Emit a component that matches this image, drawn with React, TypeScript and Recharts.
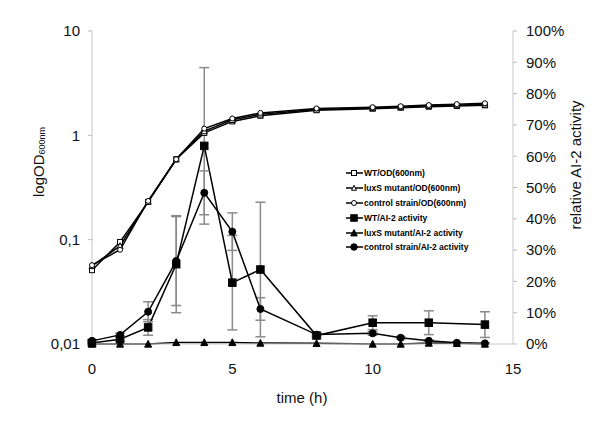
import React from 'react';
import { ComposedChart, Line, XAxis, YAxis, ErrorBar } from 'recharts';

// time points (h)
const timesOD = [0, 1, 2, 3, 4, 5, 6, 8, 10, 11, 12, 13, 14];
const wtOD = [0.051, 0.095, 0.23, 0.59, 1.055, 1.36, 1.54, 1.74, 1.8, 1.84, 1.88, 1.91, 1.94];
const luxsOD = [0.056, 0.087, 0.232, 0.59, 1.1, 1.41, 1.59, 1.77, 1.83, 1.87, 1.92, 1.95, 1.98];
const ctrlOD = [0.057, 0.08, 0.235, 0.59, 1.16, 1.45, 1.64, 1.81, 1.86, 1.9, 1.95, 1.99, 2.03];

const timesWT = [0, 1, 2, 3, 4, 5, 6, 8, 10, 12, 14];
const wtAI = [0.3, 1.5, 5.3, 25.5, 63.3, 19.6, 23.8, 2.7, 6.8, 6.8, 6.2];
const wtAIErr = [0.3, 0.6, 2.5, 15.5, 25, 15.1, 21.5, 0.8, 2.2, 3.8, 4.1];

const timesAI = [0, 1, 2, 3, 4, 5, 6, 8, 10, 11, 12, 13, 14];
const luxsAI = [0, 0, 0, 0.5, 0.5, 0.5, 0.3, 0.2, 0, 0, 0.3, 0.2, 0];
const ctrlAI = [1.0, 2.9, 10.3, 26.5, 48.3, 35.9, 11.2, 3.0, 3.4, 2.0, 1.0, 0.4, 0.2];
const ctrlAIErr = [0.3, 0.5, 3.2, 14.2, 7, 6, 3.6, 0.5, 0.6, 0.4, 0.3, 0.2, 0.1];

const xTicks = [0, 5, 10, 15];
const odTicks = [0.01, 0.1, 1, 10];
const aiTicks = [0, 10, 20, 30, 40, 50, 60, 70, 80, 90, 100];

const legendLabels = [
  'WT/OD(600nm)',
  'luxS mutant/OD(600nm)',
  'control strain/OD(600nm)',
  'WT/AI-2 activity',
  'luxS mutant/AI-2 activity',
  'control strain/AI-2 activity',
];

const build = (t: number[], v: number[], e?: number[]) =>
  t.map((x, i) => ({ t: x, v: v[i], e: e ? e[i] : 0 }));

type Shape = 'square' | 'triangle' | 'circle';

const Mark = ({ cx, cy, shape, filled, size }: { cx: number; cy: number; shape: Shape; filled: boolean; size: number }) => {
  const fill = filled ? '#000' : '#fff';
  const sw = 1;
  if (shape === 'square') {
    return <rect x={cx - size / 2} y={cy - size / 2} width={size} height={size} fill={fill} stroke="#000" strokeWidth={sw} />;
  }
  if (shape === 'triangle') {
    const h = size * 0.9;
    const pts = `${cx},${cy - h / 2 - 0.5} ${cx - size / 2},${cy + h / 2} ${cx + size / 2},${cy + h / 2}`;
    return <polygon points={pts} fill={fill} stroke="#000" strokeWidth={sw} />;
  }
  return <circle cx={cx} cy={cy} r={size / 2} fill={fill} stroke="#000" strokeWidth={sw} />;
};

const dotFn = (shape: Shape, filled: boolean, size: number) => (p: any) => {
  if (p.cx == null || p.cy == null) return <g key={`d${p.index}`} />;
  return <Mark key={`d${p.index}`} cx={p.cx} cy={p.cy} shape={shape} filled={filled} size={size} />;
};

const series: { shape: Shape; filled: boolean; size: number }[] = [
  { shape: 'square', filled: false, size: 5 },
  { shape: 'triangle', filled: false, size: 6 },
  { shape: 'circle', filled: false, size: 5 },
  { shape: 'square', filled: true, size: 7.5 },
  { shape: 'triangle', filled: true, size: 7 },
  { shape: 'circle', filled: true, size: 7 },
];

const font = '"Liberation Sans", Arial, Helvetica, sans-serif';

const LeftLabel = () => (
  <text x={38} y={162} transform="rotate(-90, 38, 162)" textAnchor="middle" dominantBaseline="central" fontSize={15} fill="#111" fontFamily={font}>
    logOD<tspan fontSize={9} dy={4}>600nm</tspan>
  </text>
);

const RightLabel = () => (
  <text x={575} y={165} transform="rotate(-90, 575, 165)" textAnchor="middle" dominantBaseline="central" fontSize={15} fill="#111" fontFamily={font}>
    relative AI-2 activity
  </text>
);

const BottomLabel = () => (
  <text x={302} y={397} textAnchor="middle" dominantBaseline="central" fontSize={15} fill="#111" fontFamily={font}>
    time (h)
  </text>
);

export default function App() {
  const odData = [build(timesOD, wtOD), build(timesOD, luxsOD), build(timesOD, ctrlOD)];
  const wtData = build(timesWT, wtAI, wtAIErr);
  const luxData = build(timesAI, luxsAI);
  const ctrlData = build(timesAI, ctrlAI, ctrlAIErr);
  const tickStyle = { fontSize: 15, fill: '#111', fontFamily: font };

  return (
    <div style={{ position: 'absolute', left: 0, top: 0, width: 600, height: 424, background: '#fff' }}>
      <ComposedChart width={600} height={424} margin={{ top: 31, right: 0, bottom: 0, left: 0 }}>
        <XAxis
          type="number"
          dataKey="t"
          domain={[0, 15]}
          ticks={xTicks}
          height={80}
          axisLine={{ stroke: '#c8c8c8' }}
          tickLine={false}
          tickSize={0}
          tickMargin={19}
          tick={tickStyle}
          label={<BottomLabel />}
        />
        <YAxis
          yAxisId="left"
          scale="log"
          domain={[0.01, 10]}
          allowDataOverflow
          ticks={odTicks}
          width={92}
          axisLine={{ stroke: '#c8c8c8' }}
          tickLine={{ stroke: '#bbb' }}
          tickSize={4}
          tickMargin={8}
          tick={tickStyle}
          tickFormatter={(v: number) => String(v).replace('.', ',')}
          label={<LeftLabel />}
        />
        <YAxis
          yAxisId="right"
          orientation="right"
          domain={[0, 100]}
          ticks={aiTicks}
          width={87}
          axisLine={{ stroke: '#c8c8c8' }}
          tickLine={{ stroke: '#bbb' }}
          tickSize={4}
          tickMargin={9}
          tick={tickStyle}
          tickFormatter={(v: number) => `${v}%`}
          label={<RightLabel />}
        />
        <Line data={luxData} dataKey="v" yAxisId="right" stroke="#000" strokeWidth={1.5} dot={dotFn('triangle', true, 7)} activeDot={false} isAnimationActive={false} />
        <Line data={wtData} dataKey="v" yAxisId="right" stroke="#000" strokeWidth={1.5} dot={dotFn('square', true, 7.5)} activeDot={false} isAnimationActive={false}>
          <ErrorBar dataKey="e" direction="y" width={5} stroke="#8a8a8a" strokeWidth={1.5} />
        </Line>
        <Line data={ctrlData} dataKey="v" yAxisId="right" stroke="#000" strokeWidth={1.5} dot={dotFn('circle', true, 7)} activeDot={false} isAnimationActive={false}>
          <ErrorBar dataKey="e" direction="y" width={5} stroke="#8a8a8a" strokeWidth={1.5} />
        </Line>
        <Line data={odData[0]} dataKey="v" yAxisId="left" stroke="#000" strokeWidth={1.5} dot={dotFn('square', false, 5)} activeDot={false} isAnimationActive={false} />
        <Line data={odData[1]} dataKey="v" yAxisId="left" stroke="#000" strokeWidth={1.5} dot={dotFn('triangle', false, 6)} activeDot={false} isAnimationActive={false} />
        <Line data={odData[2]} dataKey="v" yAxisId="left" stroke="#000" strokeWidth={1.5} dot={dotFn('circle', false, 5)} activeDot={false} isAnimationActive={false} />
      </ComposedChart>
      <div style={{ position: 'absolute', left: 346, top: 165.5, fontFamily: font, fontWeight: 'bold', fontSize: 8.5, color: '#000' }}>
        {legendLabels.map((lab, i) => (
          <div key={lab} style={{ height: 14.9, display: 'flex', alignItems: 'center', whiteSpace: 'nowrap' }}>
            <svg width={17} height={10} style={{ marginRight: 1 }}>
              <line x1={0} y1={5} x2={17} y2={5} stroke="#000" strokeWidth={1.5} />
              <Mark cx={8} cy={5} shape={series[i].shape} filled={series[i].filled} size={series[i].filled ? 6.5 : 5} />
            </svg>
            <span>{lab}</span>
          </div>
        ))}
      </div>
    </div>
  );
}
